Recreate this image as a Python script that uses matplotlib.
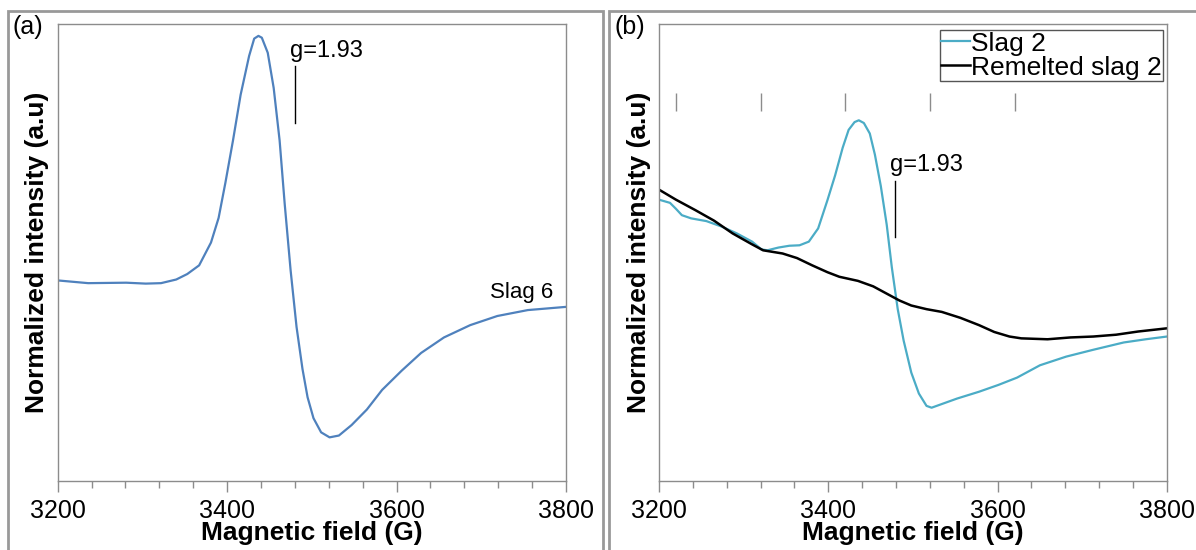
import matplotlib
matplotlib.use("Agg")
import matplotlib.pyplot as plt
from matplotlib.patches import Rectangle
from matplotlib.ticker import MultipleLocator

plt.rcParams['font.family'] = ['Liberation Sans', 'DejaVu Sans']

# ------ Panel (a): Slag 6 ------
campo_a = [3200, 3236, 3281, 3304, 3322, 3340, 3353, 3367, 3381, 3390, 3398, 3407,
           3416, 3426, 3432, 3437, 3441, 3448, 3455, 3462, 3468, 3475, 3482, 3489,
           3495, 3502, 3511, 3521, 3532, 3547, 3565, 3583, 3606, 3629, 3656, 3687,
           3719, 3755, 3800]
slag6 = [43.9, 43.3, 43.4, 43.2, 43.3, 44.1, 45.3, 47.2, 52.2, 57.6, 65.3, 74.6,
         84.6, 93.1, 96.9, 97.5, 97.1, 93.8, 86.1, 74.6, 60.7, 46.1, 33.7, 24.5,
         18.3, 13.7, 10.6, 9.5, 9.9, 12.2, 15.6, 19.9, 24.1, 28.0, 31.4, 34.1,
         36.1, 37.4, 38.1]

# ------ Panel (b): Slag 2 y Remelted slag 2 ------
campo_b1 = [3200, 3213, 3220, 3227, 3238, 3256, 3274, 3292, 3310, 3321, 3328, 3341,
            3354, 3366, 3377, 3388, 3399, 3408, 3417, 3424, 3431, 3436, 3442, 3449,
            3455, 3462, 3469, 3475, 3482, 3489, 3498, 3507, 3516, 3522, 3534, 3552,
            3578, 3601, 3623, 3650, 3681, 3713, 3749, 3775, 3800]
slag2 = [61.6, 60.9, 59.6, 58.2, 57.5, 56.9, 55.7, 54.2, 52.4, 50.7, 50.5, 51.1,
         51.5, 51.6, 52.4, 55.3, 61.5, 66.9, 73.0, 76.9, 78.6, 79.0, 78.4, 76.1,
         71.5, 64.6, 56.1, 46.8, 37.6, 30.7, 23.7, 19.1, 16.4, 16.0, 16.8, 18.0,
         19.5, 21.0, 22.6, 25.3, 27.2, 28.7, 30.3, 31.0, 31.6]

campo_b2 = [3200, 3220, 3243, 3265, 3287, 3310, 3323, 3346, 3363, 3381, 3399, 3413,
            3435, 3453, 3471, 3484, 3498, 3516, 3534, 3556, 3578, 3596, 3614, 3628,
            3659, 3686, 3713, 3740, 3766, 3800]
remelted2 = [63.8, 61.6, 59.3, 57.0, 54.2, 51.8, 50.5, 49.8, 48.8, 47.2, 45.7, 44.7,
             43.8, 42.6, 40.8, 39.5, 38.4, 37.6, 37.0, 35.7, 34.1, 32.6, 31.6, 31.2,
             31.0, 31.4, 31.6, 32.0, 32.7, 33.4]

# marcas verticales arriba del panel (b)
marcas_b = [3220, 3320, 3420, 3520, 3620]

GRIS = '#8c8c8c'


def formato_ejes(ax):
    ax.set_xlim(3200, 3800)
    ax.set_ylim(0, 100)
    ax.set_yticks([])
    ax.xaxis.set_major_locator(MultipleLocator(200))
    ax.xaxis.set_minor_locator(MultipleLocator(40))
    ax.tick_params(axis='x', which='major', direction='out', length=8, width=1,
                   color=GRIS, labelsize=18, pad=5)
    ax.tick_params(axis='x', which='minor', direction='out', length=5, width=1, color=GRIS)
    for s in ax.spines.values():
        s.set_color(GRIS)
        s.set_linewidth(1)
    ax.set_xlabel('Magnetic field (G)', fontsize=19, fontweight='bold', labelpad=-1)
    ax.set_ylabel('Normalized intensity (a.u)', fontsize=19, fontweight='bold', labelpad=6)


def main():
    fig = plt.figure(figsize=(11.96, 5.5), dpi=100)

    # marcos de cada panel
    fig.patches.append(Rectangle((8 / 1196, -0.05), 595 / 1196, 1.05 - 11 / 550,
                                 transform=fig.transFigure, fill=False,
                                 edgecolor='#999999', linewidth=2))
    fig.patches.append(Rectangle((609 / 1196, -0.05), 0.6, 1.05 - 11 / 550,
                                 transform=fig.transFigure, fill=False,
                                 edgecolor='#999999', linewidth=2))

    ax1 = fig.add_axes([0.0482, 0.126, 0.425, 0.8295])
    ax2 = fig.add_axes([0.551, 0.126, 0.4247, 0.8295])

    # Panel (a)
    ax1.plot(campo_a, slag6, color='#4F81BD', linewidth=1.6)
    ax1.plot([3480, 3480], [78.4, 90.8], color='black', linewidth=1)
    ax1.text(3474, 92.8, 'g=1.93', fontsize=17, ha='left', va='baseline')
    ax1.text(3710, 40.1, 'Slag 6', fontsize=16, ha='left', va='baseline')
    formato_ejes(ax1)

    # Panel (b)
    ax2.plot(campo_b1, slag2, color='#4BACC6', linewidth=1.6, label='Slag 2')
    ax2.plot(campo_b2, remelted2, color='black', linewidth=1.8, label='Remelted slag 2')
    ax2.vlines(marcas_b, 81.1, 85.0, color=GRIS, linewidth=1)
    ax2.plot([3479, 3479], [53.4, 65.7], color='black', linewidth=1)
    ax2.text(3473, 67.8, 'g=1.93', fontsize=17, ha='left', va='baseline')
    formato_ejes(ax2)
    leg = ax2.legend(loc='upper right', bbox_to_anchor=(0.993, 0.987), fontsize=19,
                     handlelength=1.1, handletextpad=0.05, borderpad=0.05,
                     labelspacing=0.0, fancybox=False, framealpha=1,
                     borderaxespad=0)
    leg.get_frame().set_edgecolor('#555555')
    leg.get_frame().set_linewidth(1)

    fig.text(13 / 1196, 1 - 15 / 550, '(a)', fontsize=18, ha='left', va='top')
    fig.text(614 / 1196, 1 - 15 / 550, '(b)', fontsize=18, ha='left', va='top')

    fig.savefig('out.png', dpi=100)


if __name__ == "__main__":
    main()
